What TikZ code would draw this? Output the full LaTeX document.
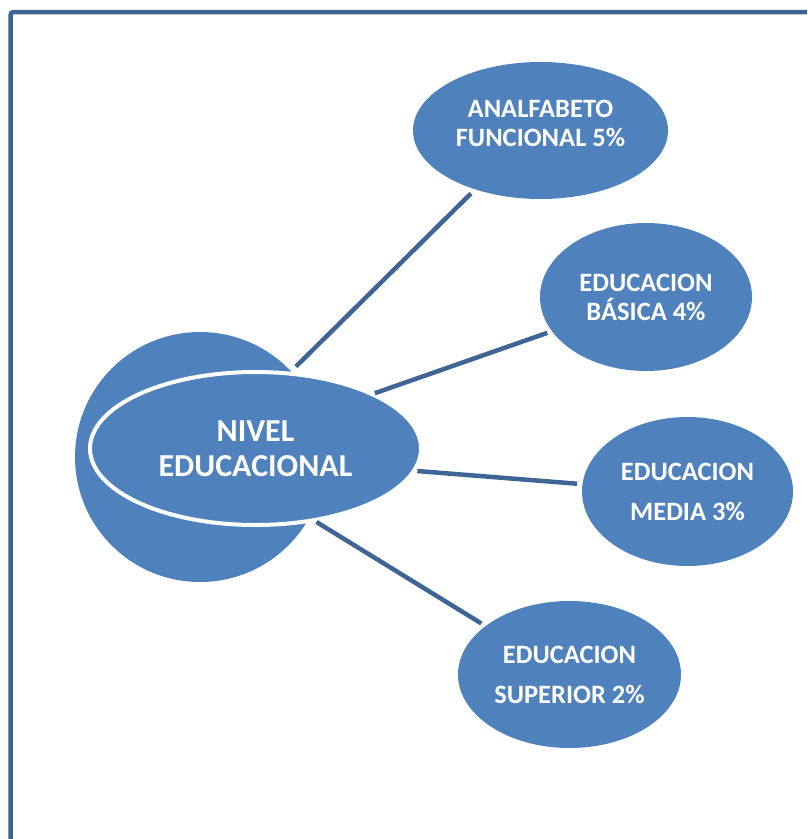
\documentclass[tikz,border=0pt]{standalone}
\usepackage{fontspec}
\setmainfont{Carlito}
\usetikzlibrary{shapes.geometric,positioning}
\definecolor{bubblefill}{HTML}{4F81BD}
\definecolor{linkcol}{HTML}{3E6595}
\definecolor{framecol}{HTML}{3C6291}

\begin{document}
\begin{tikzpicture}[x=1pt,y=-1pt,
    bubble/.style={ellipse,fill=bubblefill,text=white,inner sep=0pt,outer sep=0pt,
      align=center,font=\bfseries\fontsize{26.5}{29}\selectfont},
    link/.style={draw=linkcol,line width=4.5pt}]
    \useasboundingbox (0,0) rectangle (807,839);
    \clip (0,0) rectangle (807,839);

    % frame
    \draw[framecol,line width=4.5pt,rounded corners=3pt] (10.5,12) rectangle (840,870);

    % centre
    \fill[bubblefill] (200,457) circle[radius=125];
    \node[bubble,draw=white,line width=4pt,minimum width=331pt,minimum height=153pt,
      font=\bfseries\fontsize{32}{35}\selectfont] (nivel) at (255.5,448.5) {NIVEL\\EDUCACIONAL};

    % levels
    \node[bubble,minimum width=255pt,minimum height=137pt,text depth=14pt] (anal) at (540.5,130.5) {ANALFABETO\\FUNCIONAL 5\%};
    \node[bubble,minimum width=212pt,minimum height=148pt] (basica) at (646,297) {EDUCACION\\BÁSICA 4\%};
    \node[bubble,minimum width=211pt,minimum height=149pt] (media) at (687.5,491.5) {EDUCACION\\[11pt]MEDIA 3\%};
    \node[bubble,minimum width=223pt,minimum height=147pt] (superior) at (569.5,674.5) {EDUCACION\\[11pt]SUPERIOR 2\%};

    % links
    \draw[link,shorten <=10pt,shorten >=6pt] (nivel.66) -- (anal.222);
    \draw[link,shorten <=3pt,shorten >=5pt] (nivel.25) -- (basica.200);
    \draw[link,shorten <=3.5pt,shorten >=5.5pt] (nivel.-8) -- (media.176);
    \draw[link,shorten <=3.5pt,shorten >=5pt] (nivel.-51) -- (superior.150);
\end{tikzpicture}
\end{document}
